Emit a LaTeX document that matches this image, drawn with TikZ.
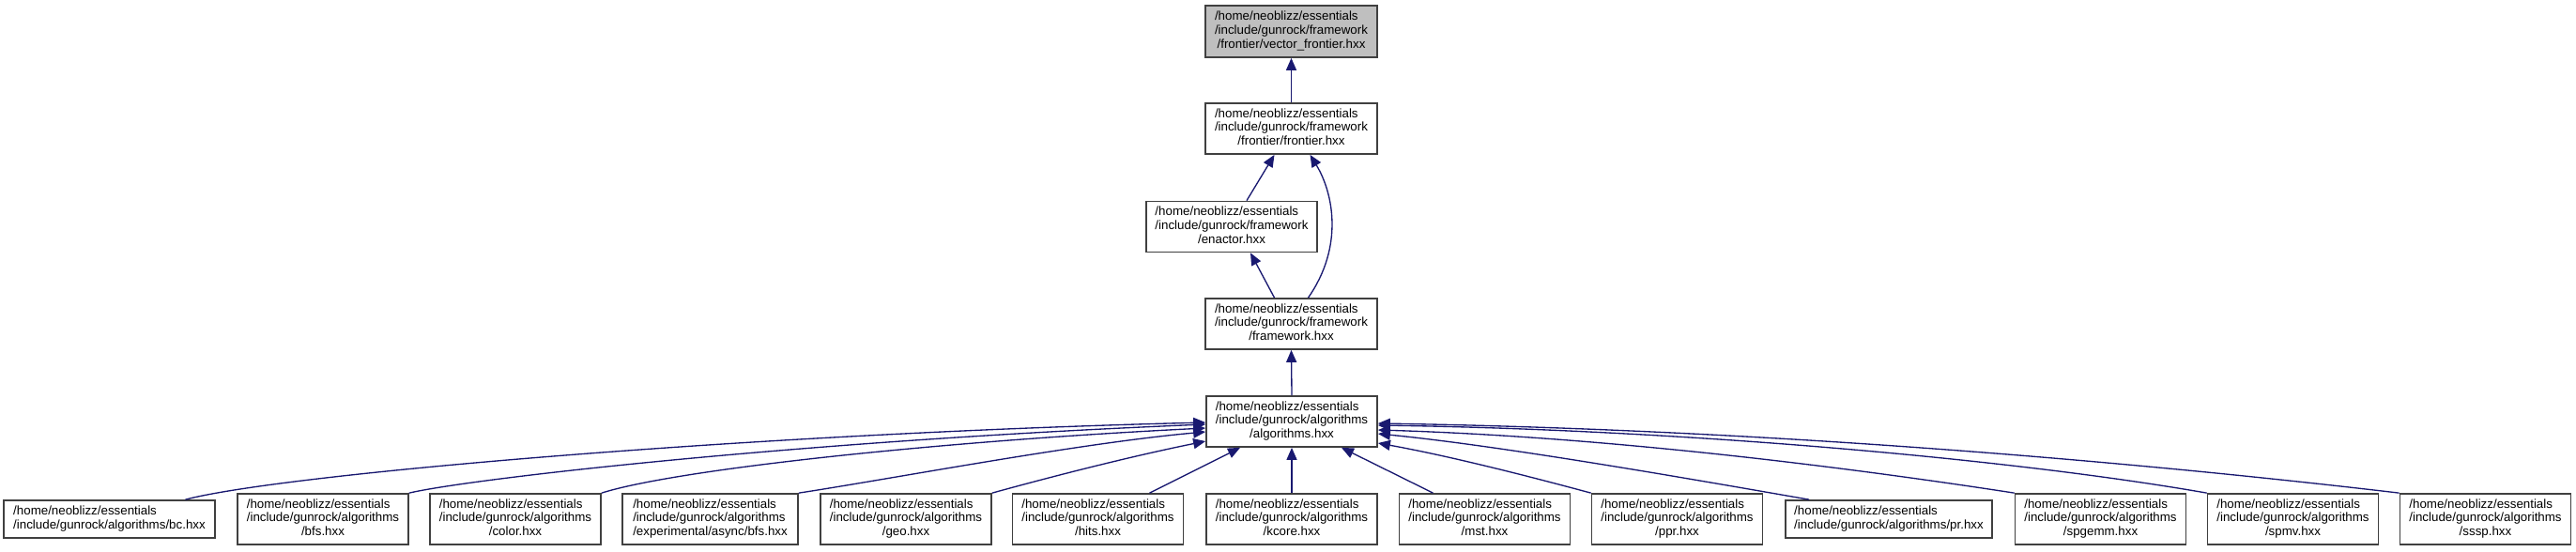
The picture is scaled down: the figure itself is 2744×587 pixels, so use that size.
\documentclass[tikz,border=0pt]{standalone}
\usepackage{fontspec}
\setmainfont{Liberation Sans}
\usetikzlibrary{arrows.meta,calc}
\definecolor{edgec}{RGB}{25,25,112}
\definecolor{boxline}{RGB}{64,64,64}
\definecolor{boxgray}{RGB}{191,191,191}
\newcommand{\labthree}[3]{\begin{tabular}{@{}l@{}}#1\\#2\\\multicolumn{1}{@{}c@{}}{#3}\end{tabular}}
\newcommand{\labtwo}[2]{\begin{tabular}{@{}l@{}}#1\\#2\end{tabular}}
\tikzset{
  filebox/.style={draw=boxline, line width=1.3pt, fill=white, inner sep=0pt,
    minimum width=136.5pt, minimum height=40.5pt,
    font=\fontsize{10}{11.1}\selectfont},
  dep/.style={draw=edgec, line width=1pt, -{Triangle[length=9.75pt,width=8.25pt]}, color=edgec},
}
\begin{document}
\begin{tikzpicture}[x=0.75pt,y=-0.75pt]
\useasboundingbox (0,0) rectangle (2744,587);
% upper chain
\node[filebox, fill=boxgray, minimum width=137.25pt, minimum height=41.25pt] (vf) at (1375.5,33.5)
  {\labthree{/home/neoblizz/essentials}{/include/gunrock/framework}{/frontier/vector\_frontier.hxx}};
\node[filebox, minimum width=137.25pt] (fr) at (1375.5,137)
  {\labthree{/home/neoblizz/essentials}{/include/gunrock/framework}{/frontier/frontier.hxx}};
\node[filebox] (en) at (1312,241.5)
  {\labthree{/home/neoblizz/essentials}{/include/gunrock/framework}{/enactor.hxx}};
\node[filebox, minimum width=137.25pt] (fw) at (1375.5,345)
  {\labthree{/home/neoblizz/essentials}{/include/gunrock/framework}{/framework.hxx}};
\node[filebox] (al) at (1376,449)
  {\labthree{/home/neoblizz/essentials}{/include/gunrock/algorithms}{/algorithms.hxx}};
% bottom row
\node[filebox, minimum width=168.75pt, minimum height=30pt] (bc) at (116.5,553)
  {\labtwo{/home/neoblizz/essentials}{/include/gunrock/algorithms/bc.hxx}};
\node[filebox] (bfs) at (344,553)
  {\labthree{/home/neoblizz/essentials}{/include/gunrock/algorithms}{/bfs.hxx}};
\node[filebox] (color) at (549,553)
  {\labthree{/home/neoblizz/essentials}{/include/gunrock/algorithms}{/color.hxx}};
\node[filebox, minimum width=140.25pt] (async) at (756.5,553)
  {\labthree{/home/neoblizz/essentials}{/include/gunrock/algorithms}{/experimental/async/bfs.hxx}};
\node[filebox] (geo) at (965,553)
  {\labthree{/home/neoblizz/essentials}{/include/gunrock/algorithms}{/geo.hxx}};
\node[filebox] (hits) at (1169.5,553)
  {\labthree{/home/neoblizz/essentials}{/include/gunrock/algorithms}{/hits.hxx}};
\node[filebox] (kcore) at (1376,553)
  {\labthree{/home/neoblizz/essentials}{/include/gunrock/algorithms}{/kcore.hxx}};
\node[filebox] (mst) at (1581.5,553)
  {\labthree{/home/neoblizz/essentials}{/include/gunrock/algorithms}{/mst.hxx}};
\node[filebox] (ppr) at (1786.5,553)
  {\labthree{/home/neoblizz/essentials}{/include/gunrock/algorithms}{/ppr.hxx}};
\node[filebox, minimum width=165pt, minimum height=30pt] (pr) at (2012,553)
  {\labtwo{/home/neoblizz/essentials}{/include/gunrock/algorithms/pr.hxx}};
\node[filebox] (spgemm) at (2237.5,553)
  {\labthree{/home/neoblizz/essentials}{/include/gunrock/algorithms}{/spgemm.hxx}};
\node[filebox] (spmv) at (2442.5,553)
  {\labthree{/home/neoblizz/essentials}{/include/gunrock/algorithms}{/spmv.hxx}};
\node[filebox] (sssp) at (2647.5,553)
  {\labthree{/home/neoblizz/essentials}{/include/gunrock/algorithms}{/sssp.hxx}};
% upper edges
\draw[dep] (fr.north) -- (vf.south);
\draw[dep] ($(en.north)+(16,0)$) -- ($(fr.south)+(-18,0)$);
\draw[dep] ($(fw.north)+(18,0)$) .. controls (1432,262) and (1420,205) .. ($(fr.south)+(20,0)$);
\draw[dep] ($(fw.north)+(-18,0)$) -- ($(en.south)+(20,0)$);
\draw[dep] (al.north) -- (fw.south);
% left-side edges
\draw[dep] ($(bc.north)+(81,0)$) .. controls (300,505) and (800,462) .. ($(al.west)+(0,1)$);
\draw[dep] (bfs.north east) .. controls (500,510) and (850,470) .. ($(al.west)+(0,3)$);
\draw[dep] (color.north east) .. controls (720,500) and (1000,470) .. ($(al.west)+(0,7)$);
\draw[dep] (async.north east) .. controls (950,510) and (1150,472) .. ($(al.west)+(0,11)$);
\draw[dep] (geo.north east) .. controls (1130,505) and (1210,485) .. ($(al.west)+(0,21)$);
\draw[dep] ($(hits.north)+(55,0)$) -- ($(al.south)+(-55,0)$);
\draw[dep] (kcore.north) -- (al.south);
\draw[dep] ($(mst.north)+(-55,0)$) -- ($(al.south)+(53,0)$);
% right-side edges
\draw[dep] (ppr.north west) .. controls (1620,505) and (1540,485) .. ($(al.east)+(0,23)$);
\draw[dep] ($(pr.north)+(-85,0)$) .. controls (1800,510) and (1600,475) .. ($(al.east)+(0,13)$);
\draw[dep] (spgemm.north west) .. controls (1950,495) and (1700,465) .. ($(al.east)+(0,9)$);
\draw[dep] (spmv.north west) .. controls (2150,490) and (1800,458) .. ($(al.east)+(0,4)$);
\draw[dep] (sssp.north west) .. controls (2300,495) and (1900,458) .. ($(al.east)+(0,2)$);
\end{tikzpicture}
\end{document}
